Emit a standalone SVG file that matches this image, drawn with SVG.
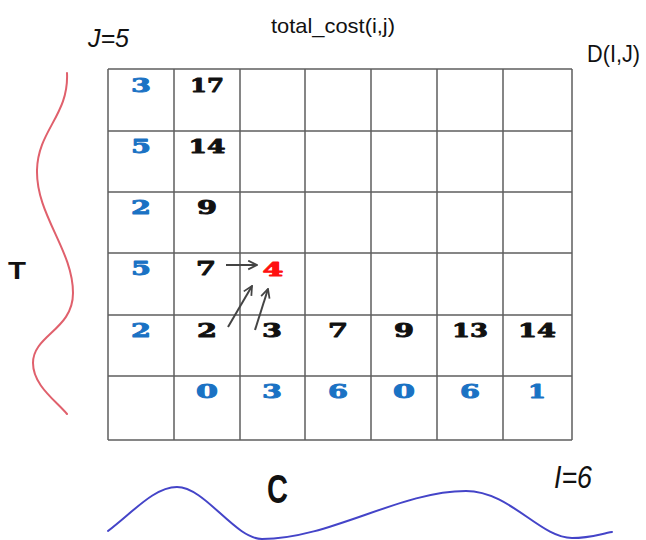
<svg xmlns="http://www.w3.org/2000/svg" width="646" height="540" viewBox="0 0 646 540">
<style>
.lbl{font-family:"Liberation Sans",Arial,sans-serif;fill:#111}
.num{font-family:"DejaVu Serif",serif;font-weight:bold;font-size:19px;text-anchor:middle;stroke-width:0.9px;stroke-linejoin:round}
.b{fill:#1a72c4;stroke:#1a72c4}
.k{fill:#111;stroke:#111}
.r{fill:#ff1010;stroke:#ff1010}
.grid line{stroke:#5e5e5e;stroke-width:1.5}
.arr{stroke:#444;stroke-width:2;fill:none;marker-end:url(#ah)}
</style>
<defs>
<marker id="ah" viewBox="0 0 10 10" refX="9" refY="5" markerWidth="11" markerHeight="11" markerUnits="userSpaceOnUse" orient="auto">
<path d="M1,1 L9,5 L1,9" fill="none" stroke="#444" stroke-width="1.6"/>
</marker>
</defs>
<rect width="646" height="540" fill="#fff"/>
<g id="labels">
<text class="lbl" x="271" y="33" font-size="21" textLength="124" lengthAdjust="spacingAndGlyphs">total_cost(i,j)</text>
<text class="lbl" x="88" y="47" font-size="25" font-style="italic" textLength="41" lengthAdjust="spacingAndGlyphs">J=5</text>
<text class="lbl" x="587" y="62" font-size="24" textLength="53" lengthAdjust="spacingAndGlyphs">D(I,J)</text>
<text class="lbl" x="8" y="279" font-size="23" font-weight="bold" textLength="18" lengthAdjust="spacingAndGlyphs">T</text>
<text class="lbl" x="267" y="503" font-size="41" font-weight="bold" textLength="21" lengthAdjust="spacingAndGlyphs">C</text>
<text class="lbl" x="554" y="488" font-size="32" font-style="italic" textLength="38" lengthAdjust="spacingAndGlyphs">I=6</text>
</g>
<g id="curves" fill="none" stroke-linecap="round">
<path id="curveT" d="M67,73 C69,115 38,130 37,170 C36,215 73,250 73,293 C73,330 33,335 33,363 C33,385 55,400 67,414" stroke="#e0606c" stroke-width="2"/>
<path id="curveC" d="M108,531 C135,510 155,487 177,487 C205,487 235,539 262,539 C330,539 400,491 466,491 C510,491 540,538 572,538 C590,538 600,534 612,532" stroke="#4444c8" stroke-width="2"/>
</g>
<g id="grid" class="grid">
<line x1="108" y1="69" x2="572" y2="69"/>
<line x1="108" y1="131" x2="572" y2="131"/>
<line x1="108" y1="192" x2="572" y2="192"/>
<line x1="108" y1="253" x2="572" y2="253"/>
<line x1="108" y1="315" x2="572" y2="315"/>
<line x1="108" y1="376" x2="572" y2="376"/>
<line x1="108" y1="440" x2="572" y2="440"/>
<line x1="108" y1="69" x2="108" y2="440"/>
<line x1="174" y1="69" x2="174" y2="440"/>
<line x1="240" y1="69" x2="240" y2="440"/>
<line x1="305" y1="69" x2="305" y2="440"/>
<line x1="371" y1="69" x2="371" y2="440"/>
<line x1="437" y1="69" x2="437" y2="440"/>
<line x1="503" y1="69" x2="503" y2="440"/>
<line x1="572" y1="69" x2="572" y2="440"/>
</g>
<g id="cells">
<text class="num b" x="141" y="92" textLength="20" lengthAdjust="spacingAndGlyphs">3</text>
<text class="num b" x="141" y="153" textLength="20" lengthAdjust="spacingAndGlyphs">5</text>
<text class="num b" x="141" y="214" textLength="20" lengthAdjust="spacingAndGlyphs">2</text>
<text class="num b" x="141" y="275" textLength="20" lengthAdjust="spacingAndGlyphs">5</text>
<text class="num b" x="141" y="337" textLength="20" lengthAdjust="spacingAndGlyphs">2</text>
<text class="num k" x="207" y="92" textLength="34" lengthAdjust="spacingAndGlyphs">17</text>
<text class="num k" x="207" y="153" textLength="37" lengthAdjust="spacingAndGlyphs">14</text>
<text class="num k" x="207" y="214" textLength="20" lengthAdjust="spacingAndGlyphs">9</text>
<text class="num k" x="206" y="275" textLength="20" lengthAdjust="spacingAndGlyphs">7</text>
<text class="num r" x="273" y="276" textLength="21" lengthAdjust="spacingAndGlyphs">4</text>
<text class="num k" x="207" y="337" textLength="20" lengthAdjust="spacingAndGlyphs">2</text>
<text class="num k" x="272" y="337" textLength="20" lengthAdjust="spacingAndGlyphs">3</text>
<text class="num k" x="338" y="337" textLength="20" lengthAdjust="spacingAndGlyphs">7</text>
<text class="num k" x="404" y="337" textLength="20" lengthAdjust="spacingAndGlyphs">9</text>
<text class="num k" x="470" y="337" textLength="36" lengthAdjust="spacingAndGlyphs">13</text>
<text class="num k" x="537" y="337" textLength="38" lengthAdjust="spacingAndGlyphs">14</text>
<text class="num b" x="207" y="398" textLength="22" lengthAdjust="spacingAndGlyphs">0</text>
<text class="num b" x="272" y="398" textLength="20" lengthAdjust="spacingAndGlyphs">3</text>
<text class="num b" x="338" y="398" textLength="20" lengthAdjust="spacingAndGlyphs">6</text>
<text class="num b" x="404" y="398" textLength="22" lengthAdjust="spacingAndGlyphs">0</text>
<text class="num b" x="470" y="398" textLength="20" lengthAdjust="spacingAndGlyphs">6</text>
<text class="num b" x="537" y="398" textLength="18" lengthAdjust="spacingAndGlyphs">1</text>
</g>
<g id="connectors">
<line class="arr" x1="226" y1="265" x2="257" y2="265"/>
<line class="arr" x1="228" y1="327" x2="252" y2="286"/>
<line class="arr" x1="255" y1="330" x2="268" y2="289"/>
</g>
</svg>
